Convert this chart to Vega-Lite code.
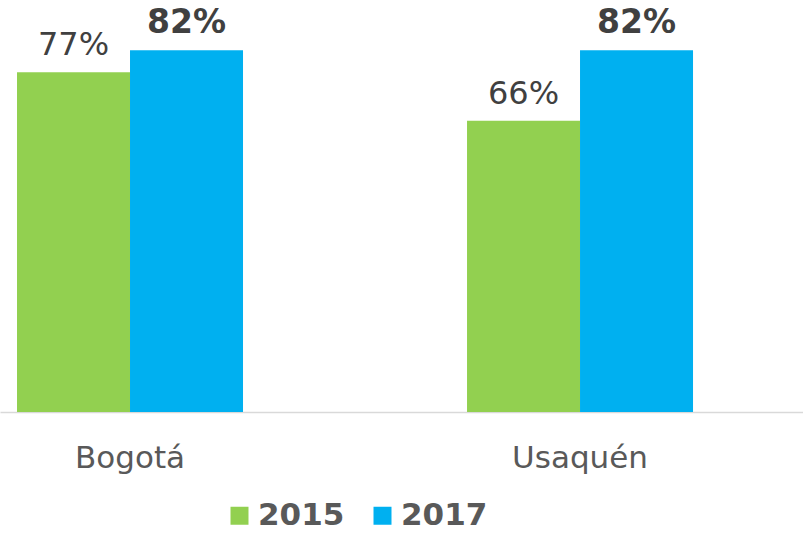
{
  "$schema": "https://vega.github.io/schema/vega-lite/v6.json",
  "width": 803,
  "height": 412,
  "padding": 0,
  "background": "white",
  "config": {"view": {"stroke": null}, "font": "DejaVu Sans"},
  "data": {
    "values": [
      {"city": "Bogotá", "year": "2015", "value": 0.77},
      {"city": "Bogotá", "year": "2017", "value": 0.82},
      {"city": "Usaquén", "year": "2015", "value": 0.66},
      {"city": "Usaquén", "year": "2017", "value": 0.82}
    ]
  },
  "encoding": {
    "x": {
      "field": "city", "type": "nominal", "sort": ["Bogotá", "Usaquén"],
      "scale": {"paddingInner": 0.4978, "paddingOuter": 0.1411, "align": 0.134},
      "axis": {
        "title": null, "labelAngle": 0, "ticks": false,
        "domainColor": "#D9D9D9", "domainWidth": 1.5,
        "labelFontSize": 31, "labelColor": "#595959",
        "labelBaseline": "alphabetic", "labelPadding": 55
      }
    },
    "xOffset": {"field": "year", "type": "nominal", "scale": {"paddingInner": 0, "paddingOuter": 0}},
    "y": {
      "field": "value", "type": "quantitative",
      "scale": {"domain": [0, 0.9336], "nice": false, "zero": true},
      "axis": null
    }
  },
  "layer": [
    {
      "mark": {"type": "bar"},
      "encoding": {
        "color": {
          "field": "year", "type": "nominal",
          "scale": {"domain": ["2015", "2017"], "range": ["#92D050", "#00B0F0"]},
          "legend": {
            "title": null, "orient": "none", "direction": "horizontal",
            "legendX": 224, "legendY": 500,
            "symbolType": "square", "symbolSize": 324, "symbolStrokeWidth": 0,
            "labelFontSize": 31, "labelFontWeight": "bold", "labelColor": "#595959",
            "labelOffset": 3, "columnPadding": 22
          }
        }
      }
    },
    {
      "transform": [{"filter": "datum.year == '2015'"}],
      "mark": {"type": "text", "baseline": "alphabetic", "dy": -17, "fontSize": 32, "color": "#404040"},
      "encoding": {"text": {"field": "value", "type": "quantitative", "format": ".0%"}}
    },
    {
      "transform": [{"filter": "datum.year == '2017'"}],
      "mark": {"type": "text", "baseline": "alphabetic", "dy": -17, "fontSize": 33, "fontWeight": "bold", "color": "#404040"},
      "encoding": {"text": {"field": "value", "type": "quantitative", "format": ".0%"}}
    }
  ]
}
